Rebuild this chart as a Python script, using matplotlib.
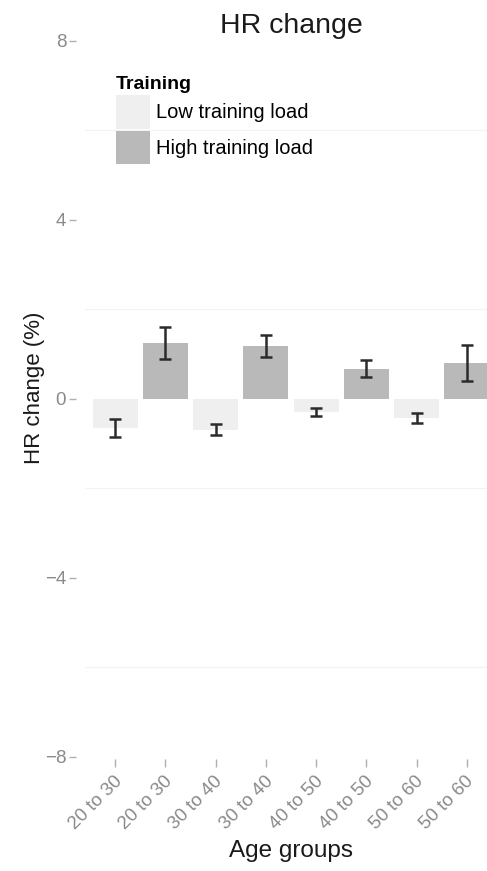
import matplotlib
matplotlib.use("Agg")
import matplotlib.pyplot as plt
from matplotlib.patches import Patch

plt.rcParams["font.family"] = ["Liberation Sans", "DejaVu Sans"]

# datos
grupos = ["20 to 30", "20 to 30", "30 to 40", "30 to 40",
          "40 to 50", "40 to 50", "50 to 60", "50 to 60"]
entrenamiento = ["Low", "High", "Low", "High", "Low", "High", "Low", "High"]
cambio_hr = [-0.65, 1.25, -0.69, 1.18, -0.30, 0.67, -0.43, 0.80]
error_hr = [0.20, 0.35, 0.12, 0.24, 0.09, 0.19, 0.11, 0.40]
y_ticks = [-8, -4, 0, 4, 8]
y_grid = [-6, -2, 2, 6]

color_low = "#efefef"
color_high = "#b9b9b9"
colores = [color_low if t == "Low" else color_high for t in entrenamiento]

fig = plt.figure(figsize=(4.87, 8.71), dpi=100)
# el panel sigue un poco mas alla del borde derecho (recortado)
ax = fig.add_axes([85 / 487, 0.1284, (497 - 85) / 487, 0.8271])

x = list(range(len(grupos)))
for g in y_grid:
    ax.axhline(g, color="#f3f3f3", lw=0.9, zorder=0)

ax.bar(x, cambio_hr, width=0.9, color=colores, zorder=2)
ax.errorbar(x, cambio_hr, yerr=error_hr, fmt="none", ecolor="#2b2b2b",
            elinewidth=1.8, capsize=4.2, capthick=1.8, zorder=3)

ax.set_xlim(-0.6, len(grupos) - 0.4)
ax.set_ylim(-8.05, 8.05)
ax.set_yticks(y_ticks)
ax.set_xticks(x)
ax.set_xticklabels([""] * len(grupos))
# etiquetas del eje x giradas 45 grados
for xi, g in zip(x, grupos):
    ax.annotate(g, xy=(xi, 0), xycoords=("data", "axes fraction"),
                xytext=(7.5, -10), textcoords="offset points",
                rotation=45, ha="right", va="top", fontsize=13.5,
                color="#8a8a8a", annotation_clip=False)

for s in ax.spines.values():
    s.set_visible(False)
ax.spines["left"].set_position(("outward", 6.5))
ax.tick_params(axis="both", colors="#b0b0b0", labelcolor="#8a8a8a",
               length=5.5, width=1, labelsize=13.5)
ax.tick_params(axis="y", length=5, pad=2)

ax.set_title("HR change", fontsize=20.5, color="#1a1a1a", pad=-8)
ax.set_xlabel("Age groups", fontsize=17.5, color="#1a1a1a")
ax.xaxis.set_label_coords(0.5, -0.112)
ax.set_ylabel("HR change (%)", fontsize=16, color="#1a1a1a")
ax.yaxis.set_label_coords(-0.097, 0.515)

handles = [Patch(facecolor=color_low, edgecolor="none"),
           Patch(facecolor=color_high, edgecolor="none")]
leg = fig.legend(handles, ["Low training load", "High training load"],
                 title="Training", loc="upper left",
                 bbox_to_anchor=(116 / 487, 1 - 76 / 871),
                 frameon=False, fontsize=14.5, title_fontsize=14,
                 handlelength=1.7, handleheight=2.2, handletextpad=0.3,
                 labelspacing=0.1, borderpad=0, borderaxespad=0)
leg.get_title().set_fontweight("bold")
leg._legend_box.align = "left"

fig.savefig("out.png", dpi=100)
